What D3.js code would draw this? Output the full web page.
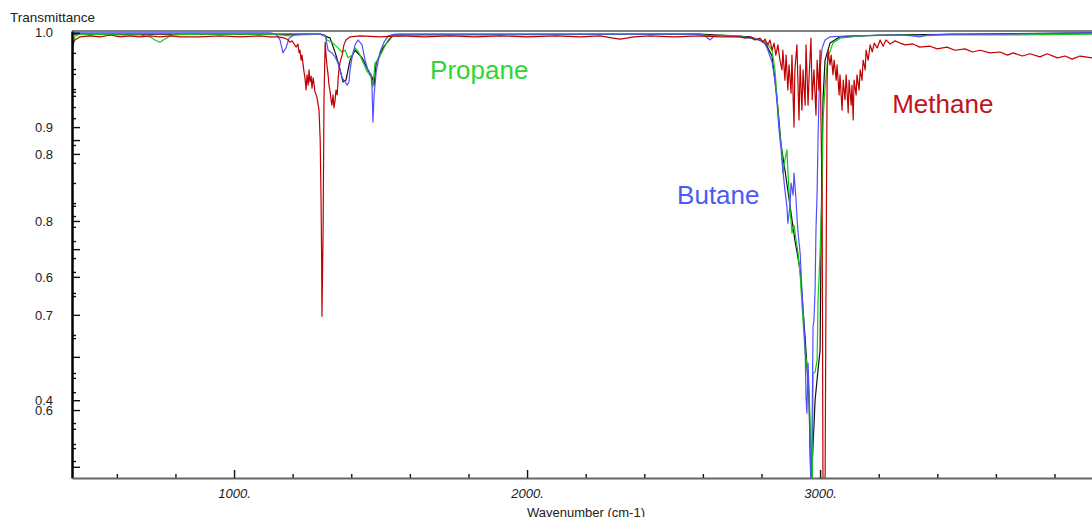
<!DOCTYPE html>
<html>
<head>
<meta charset="utf-8">
<script src="https://cdn.jsdelivr.net/npm/d3@7"></script>
<style>
  html, body { margin: 0; padding: 0; background: #fff; }
  svg { display: block; font-family: "Liberation Sans", Arial, sans-serif; }
</style>
</head>
<body>
<svg id="chart" width="1092" height="517"></svg>
<script>
// ---------------- data (wavenumber cm-1, transmittance) ----------------
const methane = [
  [447,.969],[457,.980],[474,.987],[509,.989],[543,.987],[577,.991],[611,.987],[645,.989],[679,.987],[713,.989],
  [747,.987],[782,.989],[816,.987],[884,.987],[952,.989],[1020,.987],[1089,.989],[1123,.987],[1150,.987],[1174,.984],
  [1184,.980],[1191,.975],[1198,.978],[1205,.971],[1212,.964],[1218,.971],[1222,.951],[1225,.957],[1229,.935],[1232,.946],
  [1235,.928],[1239,.908],[1242,.895],[1246,.868],[1249,.902],[1253,.879],[1256,.913],[1259,.886],[1263,.899],[1266,.872],
  [1270,.895],[1273,.881],[1276,.864],[1283,.852],[1290,.823],[1294,.756],[1297,.622],[1299,.488],[1300,.362],[1304,.555],
  [1307,.846],[1311,.975],[1314,.946],[1317,.924],[1321,.902],[1324,.879],[1328,.864],[1331,.846],[1334,.834],[1338,.857],
  [1341,.828],[1345,.846],[1348,.868],[1352,.857],[1355,.890],[1358,.913],[1362,.931],[1369,.946],[1375,.969],[1382,.980],
  [1396,.987],[1430,.989],[1500,.987],[1567,.989],[1650,.987],[1737,.989],[1820,.987],[1908,.989],[2000,.987],[2100,.989],
  [2180,.987],[2249,.989],[2294,.984],[2317,.982],[2340,.984],[2362,.987],[2420,.989],[2500,.987],[2590,.989],[2660,.987],
  [2727,.987],[2744,.984],[2761,.987],[2778,.980],[2795,.984],[2805,.975],[2812,.982],[2822,.969],[2829,.980],[2836,.957],
  [2843,.973],[2849,.946],[2856,.969],[2863,.935],[2870,.913],[2873,.957],[2880,.890],[2884,.946],[2890,.868],[2894,.924],
  [2901,.861],[2904,.946],[2911,.785],[2914,.913],[2921,.969],[2928,.801],[2932,.924],[2938,.823],[2942,.913],[2949,.834],
  [2952,.969],[2959,.834],[2962,.890],[2969,.984],[2973,.846],[2979,.913],[2986,.812],[2990,.935],[2996,.868],[3000,.957],
  [3003,.801],[3007,.622],[3010,-.03],[3013,-.03],[3017,-.03],[3020,.398],[3024,.890],[3027,.957],[3034,.924],[3038,.946],
  [3044,.902],[3048,.935],[3055,.890],[3058,.924],[3065,.857],[3068,.902],[3075,.823],[3079,.890],[3085,.846],[3089,.902],
  [3096,.817],[3099,.890],[3106,.834],[3109,.879],[3113,.801],[3116,.890],[3123,.857],[3126,.902],[3133,.868],[3137,.913],
  [3143,.890],[3147,.935],[3154,.913],[3157,.957],[3164,.935],[3171,.969],[3178,.953],[3185,.973],[3195,.962],[3205,.980],
  [3215,.966],[3225,.980],[3239,.971],[3256,.978],[3273,.973],[3290,.969],[3317,.971],[3340,.964],[3375,.966],[3400,.960],
  [3433,.964],[3460,.957],[3495,.960],[3520,.953],[3546,.957],[3580,.951],[3614,.953],[3640,.946],[3659,.951],[3690,.944],
  [3717,.949],[3750,.942],[3775,.949],[3810,.940],[3836,.944],[3860,.937],[3887,.944],[3928,.940]
];
const propane = [
  [447,.946],[450,.962],[457,.989],[474,.993],[509,.991],[543,.993],[611,.991],[679,.991],[713,.987],[730,.980],
  [747,.975],[764,.982],[788,.991],[884,.993],[1020,.993],[1123,.993],[1157,.991],[1191,.989],[1225,.991],[1294,.993],
  [1311,.989],[1317,.980],[1334,.975],[1352,.964],[1369,.953],[1379,.957],[1389,.940],[1403,.946],[1413,.962],[1423,.955],
  [1437,.935],[1451,.913],[1468,.897],[1474,.875],[1481,.928],[1491,.935],[1508,.957],[1526,.980],[1543,.991],[1567,.993],
  [1737,.993],[2249,.993],[2420,.993],[2590,.993],[2625,.989],[2659,.991],[2727,.989],[2761,.984],[2795,.980],[2819,.973],
  [2836,.957],[2846,.913],[2853,.852],[2860,.785],[2870,.727],[2873,.682],[2880,.711],[2887,.734],[2890,.689],[2897,.606],
  [2904,.548],[2911,.566],[2918,.532],[2925,.503],[2932,.454],[2938,.391],[2949,.280],[2959,.237],[2966,.130],[2969,-.03],
  [2973,-.03],[2976,.235],[2983,.237],[2990,.264],[2993,.398],[3000,.503],[3007,.651],[3010,.801],[3017,.875],[3027,.942],
  [3044,.973],[3068,.984],[3137,.989],[3273,.991],[3341,.989],[3444,.991],[3614,.991],[3928,.993]
];
const butane = [
  [447,.996],[543,.996],[884,.996],[1123,.996],[1143,.993],[1157,.980],[1167,.951],[1177,.962],[1188,.984],[1208,.993],
  [1294,.993],[1311,.991],[1321,.957],[1334,.951],[1345,.942],[1355,.928],[1362,.913],[1369,.895],[1379,.886],[1386,.879],
  [1392,.886],[1396,.913],[1403,.942],[1413,.969],[1423,.980],[1437,.969],[1447,.935],[1457,.913],[1468,.902],[1471,.872],
  [1474,.796],[1478,.857],[1485,.908],[1498,.953],[1512,.975],[1526,.989],[1549,.993],[1737,.993],[2249,.993],[2590,.993],
  [2607,.989],[2625,.980],[2642,.991],[2727,.987],[2761,.984],[2795,.980],[2812,.971],[2822,.957],[2836,.931],[2846,.890],
  [2853,.839],[2860,.779],[2867,.734],[2873,.689],[2880,.644],[2887,.606],[2890,.570],[2897,.606],[2901,.660],[2908,.633],
  [2911,.682],[2918,.622],[2921,.584],[2925,.548],[2932,.503],[2938,.421],[2942,.376],[2949,.293],[2952,.181],[2955,.145],
  [2959,.257],[2962,.197],[2966,.085],[2969,-.03],[2973,.130],[2976,.338],[2979,.353],[2983,.421],[2986,.555],[2990,.644],
  [2993,.756],[2996,.846],[3000,.913],[3007,.962],[3017,.980],[3034,.987],[3102,.989],[3273,.991],[3317,.989],[3341,.987],
  [3365,.991],[3444,.993],[3614,.993],[3928,.996]
];
const blackTrace = [
  [447,.993],[1294,.993],[1328,.984],[1348,.946],[1362,.913],[1372,.886],[1382,.890],[1396,.935],[1413,.957],[1437,.940],
  [1457,.913],[1471,.897],[1478,.879],[1485,.928],[1508,.962],[1543,.991],[2590,.993],[2761,.987],[2812,.975],[2836,.944],
  [2853,.850],[2867,.745],[2880,.689],[2897,.611],[2914,.532],[2932,.465],[2949,.313],[2962,.181],[2969,-.03],[2983,.174],
  [2993,.242],[3000,.286],[3003,.510],[3007,.734],[3010,.846],[3017,.935],[3034,.973],[3068,.987],[3205,.991],[3928,.996]
];

// y-axis tick positions (transmittance units) and their printed labels
const yLabelTicks = [.996, .785, .725, .575, .450, .365, .174, .152];
const yLabelTexts = ["1.0", "0.9", "0.8", "0.8", "0.6", "0.7", "0.4", "0.6"];
const yLongTicks  = [.756, .512, .271, .025];
const yMinorTicks = [.951, .915, .904, .870, .864, .855, .830, .805, .745, .705, .660, .615, .609, .586, .562,
                     .530, .492, .461, .414, .407, .320, .313, .235, .224, .192, .123, .110, .076, .067, .038];
const xMajorTicks = [1000, 2000, 3000];
const xMinorTicks = [600, 800, 1200, 1400, 1600, 1800, 2200, 2400, 2600, 2800, 3200, 3400, 3600, 3800];
const xDomain = [447, 3928];

const seriesLabels = [
  { name: "Propane", wn: 1669, t: 0.893, color: "#2fd62f" },
  { name: "Butane",  wn: 2512, t: 0.613, color: "#4b5bf5" },
  { name: "Methane", wn: 3246, t: 0.817, color: "#c0141c" }
];

// ---------------- drawing ----------------
const W = 1092, H = 517;
const L = 72, R = 1092, T = 31, B = 478;
const svg = d3.select("#chart");

const x = d3.scaleLinear().domain(xDomain).range([L, R]);
const y = d3.scaleLinear().domain([0, 1]).range([B, T]);

svg.append("defs").append("clipPath").attr("id", "plotclip")
  .append("rect").attr("x", L).attr("y", T).attr("width", R - L).attr("height", B - T);

// top border
svg.append("line").attr("x1", L).attr("x2", R).attr("y1", T).attr("y2", T)
  .attr("stroke", "#555").attr("stroke-width", 1.5);

const line = d3.line().x(d => x(d[0])).y(d => y(d[1]));
const plot = svg.append("g").attr("clip-path", "url(#plotclip)");
const series = [
  { data: blackTrace, color: "#111" },
  { data: propane, color: "#10cc10" },
  { data: butane, color: "#5050ff" },
  { data: methane, color: "#c00000" }
];
series.forEach(s => {
  plot.append("path").datum(s.data).attr("d", line)
    .attr("fill", "none").attr("stroke", s.color).attr("stroke-width", 1.2)
    .attr("stroke-linejoin", "round");
});

// y axis
const yMinor = svg.append("g").attr("transform", `translate(${L},0)`)
  .call(d3.axisLeft(y).tickValues(yMinorTicks).tickSizeInner(-4).tickSizeOuter(0).tickFormat(""));
yMinor.select(".domain").remove();
const yLong = svg.append("g").attr("transform", `translate(${L},0)`)
  .call(d3.axisLeft(y).tickValues(yLongTicks).tickSizeInner(-8).tickSizeOuter(0).tickFormat(""));
yLong.select(".domain").remove();
const yAx = svg.append("g").attr("transform", `translate(${L},0)`)
  .call(d3.axisLeft(y).tickValues(yLabelTicks).tickSizeInner(-8).tickSizeOuter(0)
    .tickPadding(19).tickFormat((d, i) => yLabelTexts[i]));
yAx.select(".domain").attr("stroke", "#000").attr("stroke-width", 2.5);
yAx.selectAll("text").attr("font-size", 13).attr("fill", "#222")
  .attr("font-family", "'Liberation Sans', Arial, sans-serif");
svg.selectAll(".tick line").attr("stroke", "#111").attr("stroke-width", 1.4);

// x axis
const xMinor = svg.append("g").attr("transform", `translate(0,${B})`)
  .call(d3.axisBottom(x).tickValues(xMinorTicks).tickSizeInner(-4).tickSizeOuter(0).tickFormat(""));
xMinor.select(".domain").remove();
const xAx = svg.append("g").attr("transform", `translate(0,${B})`)
  .call(d3.axisBottom(x).tickValues(xMajorTicks).tickSizeInner(-8).tickSizeOuter(0)
    .tickPadding(11).tickFormat(d => d + "."));
xAx.select(".domain").attr("stroke", "#666").attr("stroke-width", 2);
xAx.selectAll("text").attr("font-size", 13).attr("fill", "#222").attr("font-style", "italic")
  .attr("font-family", "'Liberation Sans', Arial, sans-serif");
svg.selectAll(".tick line").attr("stroke", "#111").attr("stroke-width", 1.4);

// axis titles
svg.append("text").attr("x", 10).attr("y", 22).attr("font-size", 13.5).attr("fill", "#222")
  .text("Transmittance");
svg.append("text").attr("x", 586).attr("y", 517).attr("text-anchor", "middle")
  .attr("font-size", 13).attr("fill", "#222").text("Wavenumber (cm-1)");

// series labels
svg.selectAll(".slabel").data(seriesLabels).join("text")
  .attr("class", "slabel")
  .attr("x", d => x(d.wn)).attr("y", d => y(d.t))
  .attr("font-size", 26).attr("fill", d => d.color)
  .text(d => d.name);
</script>
</body>
</html>
